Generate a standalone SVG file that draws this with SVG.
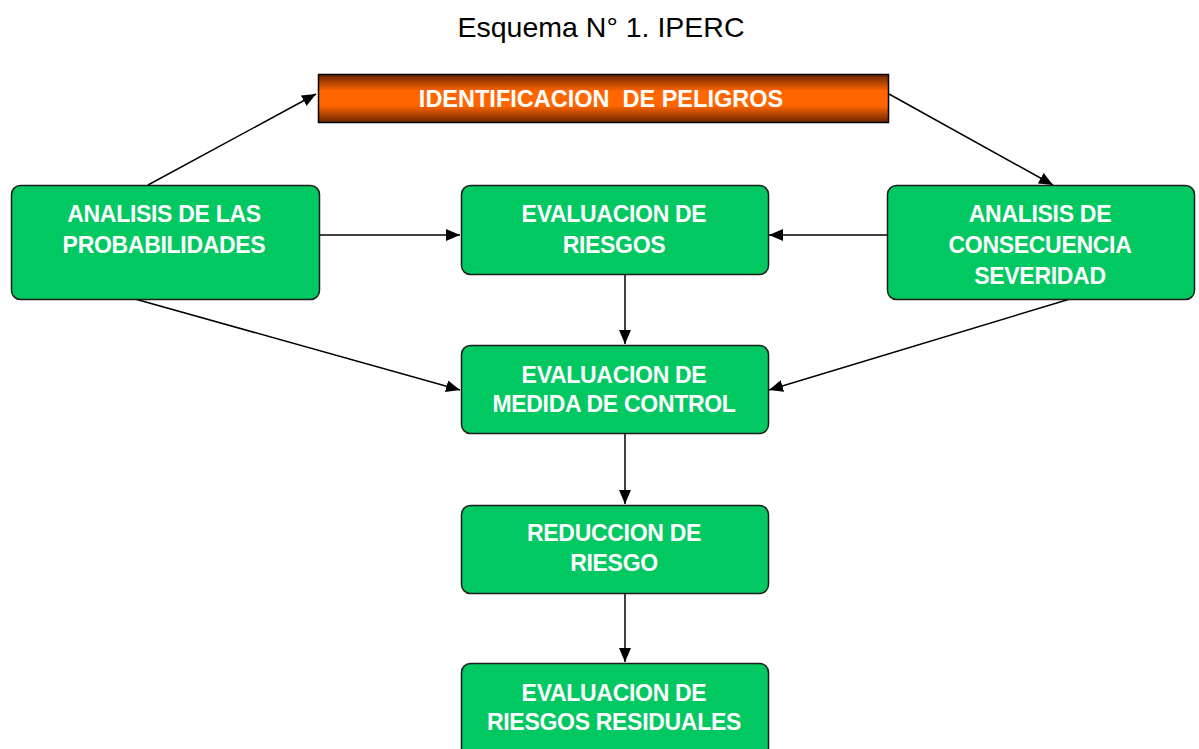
<svg xmlns="http://www.w3.org/2000/svg" width="1199" height="749" viewBox="0 0 1199 749">
<style>
.box{fill:#02C862;stroke:#1e1e1e;stroke-width:1.5}
.lbl{font-family:"Liberation Sans",Arial,sans-serif;font-weight:bold;font-size:23px;fill:#ffffff;text-anchor:middle;letter-spacing:-0.3px}
.title{font-family:"Liberation Sans",Arial,sans-serif;font-size:28.5px;fill:#000;text-anchor:middle}
.conn{stroke:#000;stroke-width:1.5;fill:none;marker-end:url(#ah)}
</style>
<defs>
<marker id="ah" viewBox="0 0 14 12" refX="14" refY="6" markerWidth="14" markerHeight="12" markerUnits="userSpaceOnUse" orient="auto">
<path d="M0,0 L14,6 L0,12 Z" fill="#000"/>
</marker>
<linearGradient id="og" x1="0" y1="0" x2="0" y2="1">
<stop offset="0" stop-color="#6a2400"/>
<stop offset="0.35" stop-color="#ff6600"/>
<stop offset="0.65" stop-color="#ff6600"/>
<stop offset="1" stop-color="#6a2400"/>
</linearGradient>
</defs>
<rect width="1199" height="749" fill="#ffffff"/>
<text class="title" x="601" y="37">Esquema N° 1. IPERC</text>
<g id="connectors">
<line class="conn" x1="148" y1="185" x2="316" y2="94"/>
<line class="conn" x1="889" y1="94" x2="1053" y2="185"/>
<line class="conn" x1="319" y1="235" x2="460" y2="235"/>
<line class="conn" x1="887" y1="235" x2="769" y2="235"/>
<line class="conn" x1="625" y1="274" x2="625" y2="344"/>
<line class="conn" x1="135" y1="299" x2="460" y2="390"/>
<line class="conn" x1="1070" y1="299" x2="769" y2="390"/>
<line class="conn" x1="625" y1="434" x2="625" y2="504"/>
<line class="conn" x1="625" y1="593" x2="625" y2="662"/>
</g>
<g id="identificacion">
<rect x="318.5" y="74.5" width="570" height="48" fill="url(#og)" stroke="#000" stroke-width="1.5"/>
<text class="lbl" x="601" y="107" style="font-size:23.5px;letter-spacing:0px;white-space:pre">IDENTIFICACION  DE PELIGROS</text>
</g>
<g id="probabilidades">
<rect class="box" x="11.5" y="185.5" width="308" height="114" rx="9"/>
<text class="lbl" x="164" y="222">ANALISIS DE LAS</text>
<text class="lbl" x="164" y="253">PROBABILIDADES</text>
</g>
<g id="evaluacion-riesgos">
<rect class="box" x="461.5" y="185.5" width="307" height="89" rx="9"/>
<text class="lbl" x="614" y="222">EVALUACION DE</text>
<text class="lbl" x="614" y="253">RIESGOS</text>
</g>
<g id="consecuencia">
<rect class="box" x="887.5" y="185.5" width="307" height="114" rx="9"/>
<text class="lbl" x="1040" y="222">ANALISIS DE</text>
<text class="lbl" x="1040" y="253">CONSECUENCIA</text>
<text class="lbl" x="1040" y="284">SEVERIDAD</text>
</g>
<g id="medida-control">
<rect class="box" x="461.5" y="345.5" width="307" height="88" rx="9"/>
<text class="lbl" x="614" y="383">EVALUACION DE</text>
<text class="lbl" x="614" y="412">MEDIDA DE CONTROL</text>
</g>
<g id="reduccion">
<rect class="box" x="461.5" y="505.5" width="307" height="88" rx="9"/>
<text class="lbl" x="614" y="541">REDUCCION DE</text>
<text class="lbl" x="614" y="571">RIESGO</text>
</g>
<g id="residuales">
<rect class="box" x="461.5" y="663.5" width="307" height="100" rx="9"/>
<text class="lbl" x="614" y="701">EVALUACION DE</text>
<text class="lbl" x="614" y="730">RIESGOS RESIDUALES</text>
</g>
</svg>
